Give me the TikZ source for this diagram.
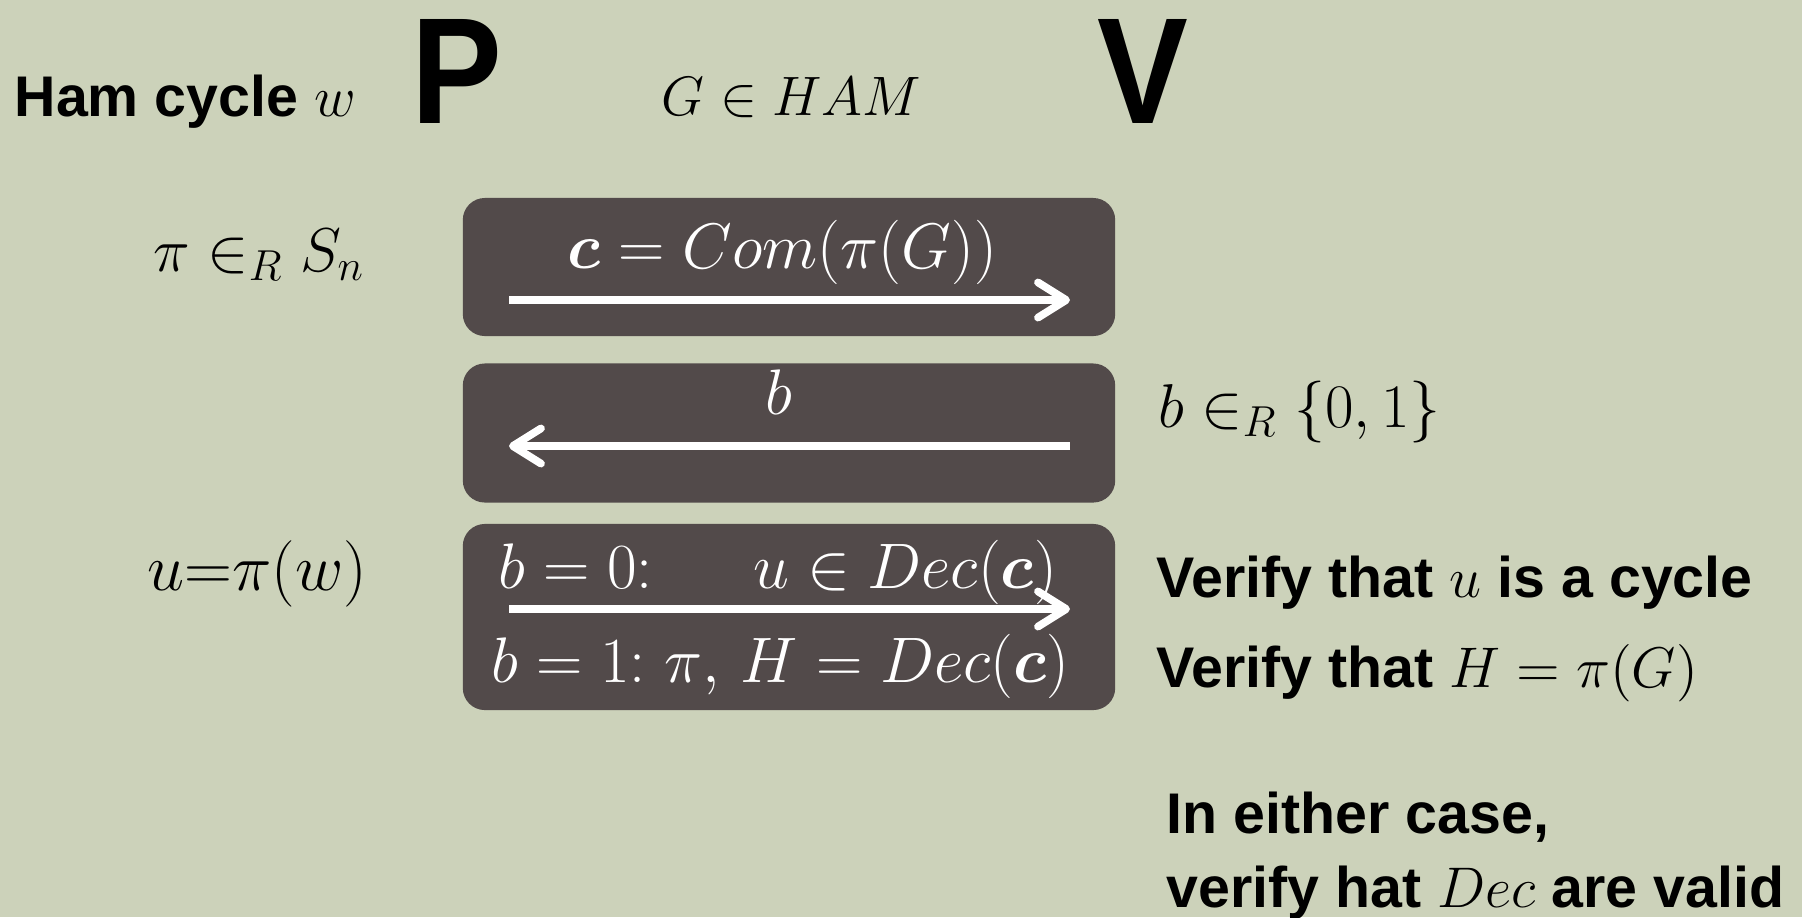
\documentclass[tikz,border=0pt]{standalone}
\usepackage{fix-cm}
\usepackage{amsmath}
\usepackage{fontspec}
\setmainfont{Liberation Sans}
\newfontfamily\pvfont{Liberation Sans}[FakeStretch=0.9]
\usetikzlibrary{arrows.meta}
\definecolor{slidebg}{RGB}{204,210,186}
\definecolor{boxfill}{RGB}{82,74,74}

\begin{document}
\begin{tikzpicture}[x=0.01cm, y=-0.01cm,
  msgbox/.style={fill=boxfill, rounded corners=0.22cm, inner sep=0pt, minimum width=6.52cm},
  msg/.style={white, line width=2.2pt, -{Straight Barb[length=8pt,width=10pt,round]}},
  boxtxt/.style={text=white, inner sep=0pt, anchor=base west, font=\fontsize{18.3}{22}\selectfont},
  sidetxt/.style={inner sep=0pt, anchor=base west, font=\fontsize{16.3}{20}\selectfont\bfseries},
  mathtxt/.style={inner sep=0pt, anchor=base west, font=\fontsize{17.6}{21}\selectfont},
  party/.style={inner sep=0pt, anchor=base west, font=\fontsize{43}{46}\selectfont\pvfont\bfseries}]
  % Slide background and frame.
  \fill[slidebg] (0,0) rectangle (1802,917);
  \useasboundingbox (0,0) rectangle (1802,917);

  % Header: prover, common input, verifier.
  \node[sidetxt] (wit) at (14,116) {Ham cycle $w$};
  \node[party] (prover) at (411,123) {P};
  \node[mathtxt, font=\fontsize{15.8}{19}\selectfont] (input) at (661,115) {$G \in HAM$};
  \node[party] (verifier) at (1097,123) {V};

  % Message boxes.
  \node[msgbox, minimum height=1.38cm] (box1) at (789,267) {};
  \node[msgbox, minimum height=1.39cm] (box2) at (789,433) {};
  \node[msgbox, minimum height=1.86cm] (box3) at (789,617) {};

  % Arrows inside the boxes.
  \coordinate (a1s) at (509,300);
  \coordinate (a1e) at (1070,300);
  \coordinate (a2s) at (1070,446);
  \coordinate (a2e) at (509,446);
  \coordinate (a3s) at (509,609);
  \coordinate (a3e) at (1070,609);
  \draw[msg] (a1s) -- (a1e);
  \draw[msg] (a2s) -- (a2e);
  \draw[msg] (a3s) -- (a3e);

  % Message texts.
  \node[boxtxt] (commit) at (567,268) {$\boldsymbol{c} = Com(\pi(G))$};
  \node[boxtxt] (chal) at (765,414) {$b$};
  \node[boxtxt] (resp0) at (498,588) {$b = 0{:}\quad\;\; u \in Dec(\boldsymbol{c})$};
  \node[boxtxt] (resp1) at (491,682) {$b = 1{:}\ \pi,\, H = Dec(\boldsymbol{c})$};

  % Local computations.
  \node[mathtxt] (perm) at (153,271) {$\pi \in_R S_n$};
  \node[mathtxt, font=\fontsize{18.9}{23}\selectfont] (upi) at (147,590) {$u{=}\pi(w)$};
  \node[mathtxt] (coin) at (1158,427) {$b \in_R \{0,1\}$};

  % Verifier checks.
  \node[sidetxt] (chk0) at (1156,597) {Verify that $u$ is a cycle};
  \node[sidetxt] (chk1) at (1156,687) {Verify that $H = \pi(G)$};
  \node[sidetxt] (both) at (1166,833) {In either case,};
  \node[sidetxt] (valid) at (1166,907) {verify hat $Dec$ are valid};
\end{tikzpicture}
\end{document}
